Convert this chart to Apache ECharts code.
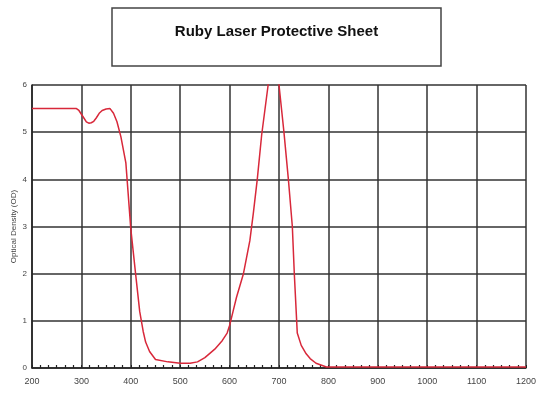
<!DOCTYPE html>
<html>
<head>
<meta charset="utf-8">
<script src="https://cdn.jsdelivr.net/npm/echarts@6/dist/echarts.min.js"></script>
<style>html,body{margin:0;padding:0;background:#fff}#c{width:550px;height:404px}</style>
</head>
<body>
<div id="c"></div>
<script>
var titleText = "Ruby Laser Protective Sheet";
var yAxisName = "Optical Density (OD)";
var wavelengths = [200,290,295,300,305,310,315,320,325,330,336,342,350,358,365,372,380,390,400,410,418,425,430,438,450,475,500,520,535,550,570,585,595,600,607,614,628,641,648,656,665,678,690,700,710,719,727,731,737,745,755,763,775,796,1200];
var density = [5.5,5.5,5.46,5.38,5.3,5.22,5.19,5.2,5.23,5.3,5.4,5.46,5.49,5.5,5.4,5.22,4.9,4.35,2.95,1.97,1.2,0.78,0.55,0.35,0.18,0.13,0.1,0.1,0.13,0.22,0.4,0.58,0.74,0.9,1.2,1.5,2.0,2.7,3.28,4.0,4.95,6.0,6.9,6.0,5.0,4.0,3.0,2.0,0.74,0.48,0.3,0.2,0.1,0.02,0.02];
var xMin = 200, xMax = 1200, xStep = 100;
var yMin = 0, yMax = 6, yStep = 1;

var pts = wavelengths.map(function(w,i){return [w, density[i]];});
var chart = echarts.init(document.getElementById('c'), null, {renderer:'canvas'});
var font = '"Liberation Sans", Arial, sans-serif';
chart.setOption({
  animation:false,
  backgroundColor:'#fff',
  graphic:[
    {type:'rect', shape:{x:112,y:8,width:329,height:58}, style:{fill:'#fff', stroke:'#444', lineWidth:1.5}},
    {type:'text', x:276.5, y:32, style:{text:titleText, font:'bold 15px ' + font, fill:'#111', align:'center', verticalAlign:'middle'}}
  ],
  grid:{left:32, right:24, top:85, bottom:36, containLabel:false, outerBoundsMode:'none'},
  xAxis:{
    type:'value', min:xMin, max:xMax, interval:xStep,
    axisLine:{show:true, lineStyle:{color:'#222', width:1.5}},
    axisTick:{show:true, inside:true, length:3, lineStyle:{color:'#222'}},
    minorTick:{show:true, splitNumber:6, length:3, lineStyle:{color:'#222', width:1.2}},
    axisLabel:{color:'#444', fontSize:9, fontFamily:font, margin:9, formatter:function(v){return String(v);}},
    splitLine:{show:true, lineStyle:{color:'#333', width:1.5}}
  },
  yAxis:{
    type:'value', min:yMin, max:yMax, interval:yStep,
    name:yAxisName, nameLocation:'middle', nameGap:14, nameMoveOverlap:false,
    nameTextStyle:{color:'#444', fontSize:8, fontFamily:font},
    axisLine:{show:true, lineStyle:{color:'#222', width:1.5}},
    axisTick:{show:false},
    axisLabel:{color:'#444', fontSize:8, fontFamily:font, margin:5, formatter:function(v){return String(v);}},
    splitLine:{show:true, lineStyle:{color:'#333', width:1.5}}
  },
  series:[{
    type:'line', data:pts, showSymbol:false, symbol:'none', clip:true,
    smooth:false,
    lineStyle:{color:'#d8283a', width:1.5}
  }]
});
</script>
</body>
</html>
